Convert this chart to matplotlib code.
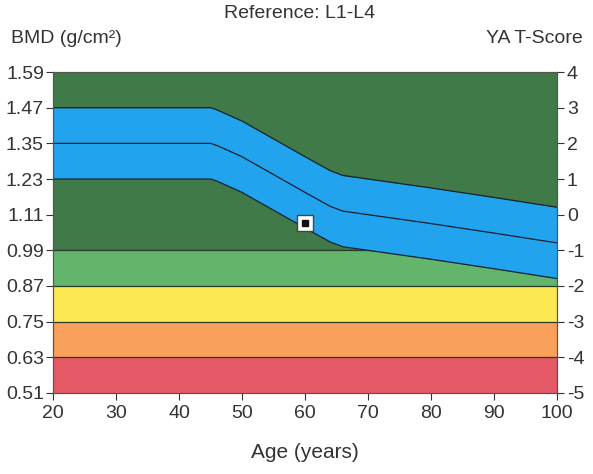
import numpy as np
import matplotlib.pyplot as plt

plt.rcParams['font.family'] = ['Liberation Sans', 'DejaVu Sans']
plt.rcParams['axes.unicode_minus'] = False

# ---- data ----
age = [20, 45, 46, 50, 55, 60, 64, 66, 70, 80, 90, 100]
bmd_mean = [1.35, 1.35, 1.343, 1.305, 1.245, 1.185, 1.138, 1.122, 1.11, 1.08, 1.048, 1.015]
sd = 0.12

band_edges = [0.51, 0.63, 0.75, 0.87, 0.99, 1.59]
band_colors = ['#e55a66', '#f9a05a', '#fbe852', '#62b56a', '#3f7a48']

patient_age = [60]
patient_bmd = [1.082]

yticks = [0.51, 0.63, 0.75, 0.87, 0.99, 1.11, 1.23, 1.35, 1.47, 1.59]
tscores = [-5, -4, -3, -2, -1, 0, 1, 2, 3, 4]
xticks = [20, 30, 40, 50, 60, 70, 80, 90, 100]

FS = 14
TXT = '#333333'

# ---- plot ----
fig = plt.figure(figsize=(5.93, 4.74), dpi=100)
ax = fig.add_axes([0.0894, 0.171, 0.85, 0.677])

for lo, hi, c in zip(band_edges[:-1], band_edges[1:], band_colors):
    ax.axhspan(lo, hi, color=c, lw=0, zorder=0)
for y in band_edges[1:-1]:
    ax.axhline(y, color='#2a3a2a', lw=0.9, zorder=1)

mean = np.array(bmd_mean)
ax.fill_between(age, mean - sd, mean + sd, color='#22a3ee', lw=0, zorder=2)
for curve in (mean + sd, mean, mean - sd):
    ax.plot(age, curve, color='#15222e', lw=0.9, zorder=3)

ax.plot(patient_age, patient_bmd, 's', ms=11, mfc='white', mec='#444444', mew=1.0, zorder=4)
ax.plot(patient_age, patient_bmd, 's', ms=5, mfc='#111111', mec='#111111', zorder=5)

ax.set_xlim(20, 100)
ax.set_ylim(0.51, 1.59)
ax.set_xticks(xticks)
ax.set_yticks(yticks)
ax.set_yticklabels(['%.2f' % v for v in yticks])
ax.tick_params(labelsize=FS, colors=TXT, length=5, width=0.8)
ax.tick_params(axis='y', pad=1.5)
for s in ax.spines.values():
    s.set_color('#555555')
    s.set_linewidth(0.8)

ax2 = ax.twinx()
ax2.set_ylim(-5, 4)
ax2.set_yticks(tscores)
ax2.tick_params(labelsize=FS, colors=TXT, length=5, width=0.8, pad=2)
for s in ax2.spines.values():
    s.set_color('#555555')
    s.set_linewidth(0.8)

ax.set_xlabel('Age (years)', fontsize=15, color=TXT, labelpad=15)
fig.text(0.505, 0.972, 'Reference: L1-L4', ha='center', va='center', fontsize=FS, color=TXT)
fig.text(0.018, 0.918, 'BMD (g/cm²)', ha='left', va='center', fontsize=FS, color=TXT)
fig.text(0.982, 0.918, 'YA T-Score', ha='right', va='center', fontsize=FS, color=TXT)

fig.savefig('out.png', dpi=100)
